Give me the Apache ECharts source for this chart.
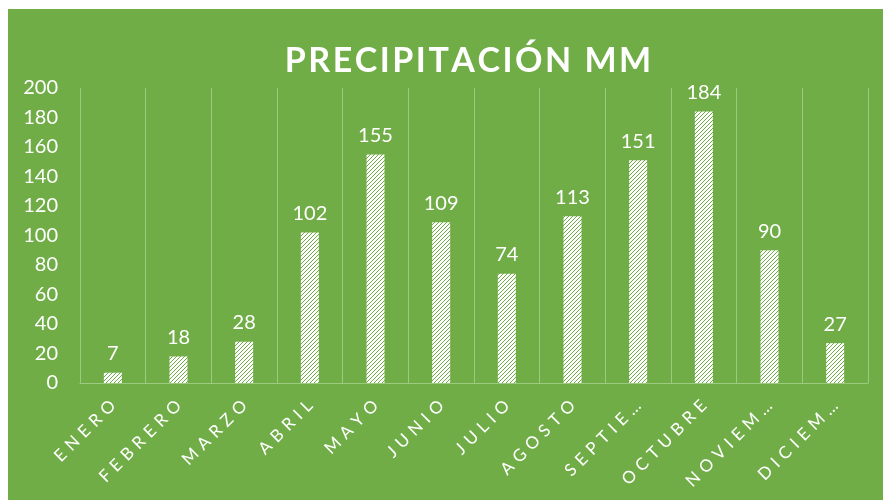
<!DOCTYPE html>
<html>
<head>
<meta charset="utf-8">
<script src="https://cdn.jsdelivr.net/npm/echarts@6/dist/echarts.min.js"></script>
<style>
  html, body { margin: 0; padding: 0; background: #fff; }
  #chart { position: absolute; left: 8px; top: 9px; width: 875px; height: 491px; background: #70ad47; }
</style>
</head>
<body>
<div id="chart"></div>
<script>
const months = ['ENERO', 'FEBRERO', 'MARZO', 'ABRIL', 'MAYO', 'JUNIO', 'JULIO',
  'AGOSTO', 'SEPTIEMBRE', 'OCTUBRE', 'NOVIEMBRE', 'DICIEMBRE']
const rainMm = [7, 18, 28, 102, 155, 109, 74, 113, 151, 184, 90, 27]
const yTicks = { min: 0, max: 200, interval: 20 }

const green = '#70ad47'
const gridColor = '#9ccb7f'
const titleText = 'PRECIPITACIÓN MM'

// long month names are cut like excel does it
const shortName = m => (m.length > 7 ? m.slice(0, 6) + '…' : m)

// month names and title are letter-spaced in the original.
// draw those char by char so the spacing follows the rotation
function spacingFor (s) {
  if (s === titleText) return 2.5
  if (months.some(m => shortName(m) === s)) return 5.5
  return 0
}
const origFill = CanvasRenderingContext2D.prototype.fillText
CanvasRenderingContext2D.prototype.fillText = function (s, x, y, w) {
  s = String(s)
  const sp = spacingFor(s)
  if (!sp) return w === undefined ? origFill.call(this, s, x, y) : origFill.call(this, s, x, y, w)
  const chars = Array.from(s)
  const widths = chars.map(c => this.measureText(c).width)
  const total = widths.reduce((a, b) => a + b, 0) + sp * (chars.length - 1)
  const align = this.textAlign
  let cx = x
  if (align === 'center') cx = x - total / 2
  else if (align === 'right' || align === 'end') cx = x - total
  this.textAlign = 'left'
  chars.forEach((c, i) => {
    origFill.call(this, c, cx, y)
    cx += widths[i] + sp
  })
  this.textAlign = align
}

// upward diagonal hatch like the excel pattern fill
function hatch () {
  const c = document.createElement('canvas')
  c.width = 4
  c.height = 4
  const ctx = c.getContext('2d')
  ctx.fillStyle = '#ffffff'
  ctx.fillRect(0, 0, 4, 4)
  ctx.fillStyle = green
  for (let y = 0; y < 4; y++) {
    for (let x = 0; x < 4; x++) {
      if ((x + y) % 4 === 3) ctx.fillRect(x, y, 1, 1)
    }
  }
  return c
}

const chart = echarts.init(document.getElementById('chart'))
chart.setOption({
  animation: false,
  backgroundColor: 'transparent',
  textStyle: { fontFamily: 'Lato' },
  title: {
    text: titleText,
    left: 455,
    top: 30,
    textAlign: 'center',
    textStyle: { color: '#fff', fontWeight: 'bold', fontSize: 34, fontFamily: 'Lato' }
  },
  grid: { left: 72, right: 15, top: 79, bottom: 117 },
  xAxis: {
    type: 'category',
    data: months,
    axisLine: { lineStyle: { color: gridColor, width: 1 } },
    axisTick: { show: false },
    splitLine: { show: true, lineStyle: { color: gridColor, width: 1 } },
    axisLabel: {
      color: '#fff',
      fontSize: 17,
      rotate: 45,
      margin: 20,
      interval: 0,
      formatter: shortName
    }
  },
  yAxis: {
    type: 'value',
    min: yTicks.min,
    max: yTicks.max,
    interval: yTicks.interval,
    axisLine: { show: false },
    axisTick: { show: false },
    splitLine: { show: false },
    axisLabel: { color: '#fff', fontSize: 20, margin: 22 }
  },
  series: [{
    type: 'bar',
    data: rainMm,
    barWidth: 18,
    itemStyle: { color: { image: hatch(), repeat: 'repeat' } },
    label: { show: true, position: 'top', distance: 9, color: '#fff', fontSize: 20 }
  }]
})
</script>
</body>
</html>
